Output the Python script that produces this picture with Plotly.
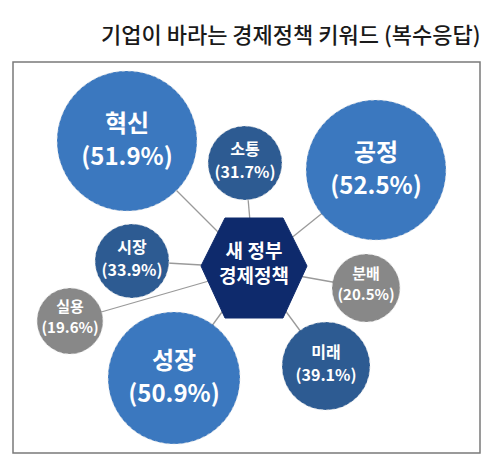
import plotly.graph_objects as go

# keyword survey data
keywords = ["혁신", "소통", "공정", "시장", "분배", "실용", "성장", "미래"]
shares = [51.9, 31.7, 52.5, 33.9, 20.5, 19.6, 50.9, 39.1]
tiers = ["big", "mid", "big", "mid", "small", "small", "big", "mid"]

# bubble placement (pixel-like coordinates, y grows downward)
pos_x = [127, 245, 376, 132, 366, 70, 174, 326]
pos_y = [141, 163, 170, 261, 288, 321, 378, 366]
radius = [70, 37, 70, 37, 34, 33, 66, 44]

center_x, center_y = 254, 268
center_label = "새 정부<br>경제정책"
title_text = "기업이 바라는 경제정책 키워드 (복수응답)"

FONT = "Noto Sans CJK KR"
# colour, font size, label offset above / below bubble centre
tier_style = {
    "big": dict(color="#3B78BF", size=24, up=-15, down=18),
    "mid": dict(color="#2D5B92", size=16, up=-12, down=11),
    "small": dict(color="#888888", size=15, up=-13, down=8),
}

# page body has an 8px margin, so the figure is offset by that much
OFF = 8

fig = go.Figure()

# spokes from the centre hexagon to every bubble
for x, y in zip(pos_x, pos_y):
    fig.add_trace(go.Scatter(
        x=[center_x, x], y=[center_y, y], mode="lines",
        line=dict(color="#9a9a9a", width=1.3), hoverinfo="skip", showlegend=False))

# centre hexagon
hw, tw, hh = 53, 29, 50
hex_x = [center_x - tw, center_x + tw, center_x + hw, center_x + tw, center_x - tw, center_x - hw, center_x - tw]
hex_y = [center_y - hh, center_y - hh, center_y - 2, center_y + hh, center_y + hh, center_y - 2, center_y - hh]
fig.add_trace(go.Scatter(
    x=hex_x, y=hex_y, mode="lines", fill="toself", fillcolor="#0E2A6C",
    line=dict(color="#0E2A6C", width=1), hoverinfo="skip", showlegend=False))
fig.add_trace(go.Scatter(
    x=[center_x], y=[center_y - 2], mode="text", text=[center_label],
    textfont=dict(family=FONT, size=19, color="white", weight="bold"),
    hoverinfo="skip", showlegend=False))

# bubbles, one trace per tier, then the two label lines
for tier, style in tier_style.items():
    idx = [i for i, t in enumerate(tiers) if t == tier]
    fig.add_trace(go.Scatter(
        x=[pos_x[i] for i in idx], y=[pos_y[i] for i in idx],
        mode="markers",
        marker=dict(size=[2 * radius[i] for i in idx], sizemode="diameter",
                    color=style["color"], opacity=1, line=dict(width=0)),
        hoverinfo="skip", showlegend=False))
    fig.add_trace(go.Scatter(
        x=[pos_x[i] for i in idx], y=[pos_y[i] + style["up"] for i in idx],
        mode="text", text=[keywords[i] for i in idx], textposition="middle center",
        textfont=dict(family=FONT, size=style["size"], color="white", weight="bold"),
        hoverinfo="skip", showlegend=False))
    fig.add_trace(go.Scatter(
        x=[pos_x[i] for i in idx], y=[pos_y[i] + style["down"] for i in idx],
        mode="text", text=[f"({shares[i]:.1f}%)" for i in idx], textposition="middle center",
        textfont=dict(family=FONT, size=style["size"], color="white", weight="bold"),
        hoverinfo="skip", showlegend=False))

# dotted rim around each bubble
for x, y, r in zip(pos_x, pos_y, radius):
    fig.add_shape(type="circle", xref="x", yref="y",
                  x0=x - r, x1=x + r, y0=y - r, y1=y + r,
                  line=dict(color="rgba(225,225,225,0.55)", width=1.2, dash="dot"))

# frame
fig.add_shape(type="rect", xref="x", yref="y", x0=13, x1=480, y0=62, y1=453,
              line=dict(color="#7a7a7a", width=1.5), layer="below")

fig.add_annotation(x=483, y=33, xref="x", yref="y", xanchor="right", yanchor="middle",
                   text=title_text, showarrow=False,
                   font=dict(family=FONT, size=22, color="#1a1a1a", weight=500))

fig.update_layout(
    width=500 - OFF, height=476 - OFF,
    margin=dict(l=0, r=0, t=0, b=0),
    paper_bgcolor="white", plot_bgcolor="white",
    xaxis=dict(range=[OFF, 500], visible=False, fixedrange=True),
    yaxis=dict(range=[476, OFF], visible=False, fixedrange=True),
)

fig.write_html("out.html")
